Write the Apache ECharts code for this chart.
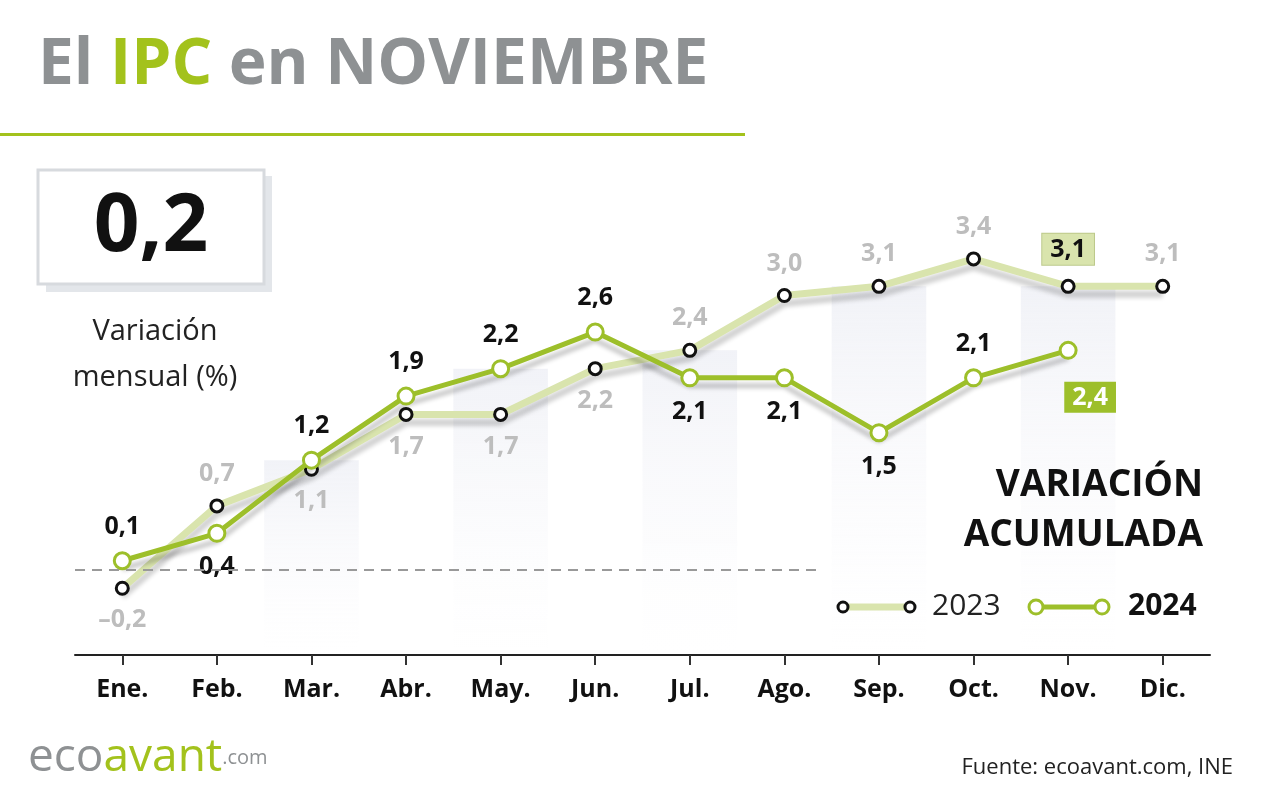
<!DOCTYPE html>
<html><head><meta charset="utf-8">
<script src="https://cdn.jsdelivr.net/npm/echarts@6/dist/echarts.min.js"></script>
<style>html,body{margin:0;padding:0;background:#fff}#c{width:1280px;height:800px}</style>
</head><body><div id="c"></div>
<script>
const months = ['Ene.','Feb.','Mar.','Abr.','May.','Jun.','Jul.','Ago.','Sep.','Oct.','Nov.','Dic.'];
const v2023 = [-0.2,0.7,1.1,1.7,1.7,2.2,2.4,3.0,3.1,3.4,3.1,3.1];
const v2024 = [0.1,0.4,1.2,1.9,2.2,2.6,2.1,2.1,1.5,2.1,2.4,null];
const pos2023 = ['bottom','top','bottom','bottom','bottom','bottom','top','top','top','top','top','top'];
const pos2024 = ['top','bottom','top','top','top','top','bottom','bottom','bottom','top','bottom','top'];
const shadeIdx = [2,4,6,8,10];
const fmt = v => (v<0?'–':'')+Math.abs(v).toFixed(1).replace('.',',');
const YMIN = -0.93;

const GREEN='#9dbf2a', LIGHT='#d9e4ad';
const chart = echarts.init(document.getElementById('c'));
const d23 = v2023.map((v,i)=>{
  const o={value:v,label:{position:pos2023[i]}};
  if(i===10){o.label={position:'top',distance:14,backgroundColor:LIGHT,color:'#111',padding:[4,8,2,8],borderColor:'#bcc98a',borderWidth:1};}
  return o;
});
const d24 = v2024.map((v,i)=>{
  const o={value:v,label:{position:pos2024[i]}};
  if(i===10){o.label={position:'bottom',distance:22,offset:[22,0],backgroundColor:GREEN,color:'#fff',padding:[4,8,2,8]};}
  return o;
});
const shadeData = shadeIdx.map(i=>[i, Math.max(v2023[i], v2024[i]||0)]);

chart.setOption({
  animation:false,
  grid:{left:75,right:70,top:204,bottom:145},
  xAxis:{type:'category',data:months,axisTick:{show:true,alignWithLabel:true,length:10,lineStyle:{color:'#333',width:2}},
    axisLine:{onZero:false,lineStyle:{color:'#222',width:2}},
    axisLabel:{color:'#111',fontSize:25,fontWeight:'bold',fontFamily:'Open Sans',margin:22}},
  yAxis:{type:'value',min:YMIN,max:4,show:false,splitLine:{show:false}},
  series:[
    {type:'custom',z:0,silent:true,data:shadeData,
     renderItem:(params,api)=>{
       const top=api.coord([api.value(0),api.value(1)]);
       const bot=api.coord([api.value(0),YMIN]);
       const w=api.size([1,0])[0];
       return {type:'rect',shape:{x:top[0]-w/2,y:top[1],width:w,height:bot[1]-top[1]},
         style:{fill:new echarts.graphic.LinearGradient(0,0,0,1,[{offset:0,color:'rgba(232,234,242,0.6)'},{offset:1,color:'rgba(248,248,251,0)'}])}};
     }},
    {name:'2023',type:'line',data:d23,z:3,symbol:'circle',symbolSize:12,
     lineStyle:{color:LIGHT,width:7,shadowColor:'rgba(0,0,0,0.18)',shadowBlur:4,shadowOffsetY:8},
     itemStyle:{color:'#fff',borderColor:'#111',borderWidth:3},
     label:{show:true,formatter:p=>fmt(p.value),color:'#bdbdbd',fontSize:25,fontWeight:'bold',fontFamily:'Open Sans',distance:12},
     markLine:{silent:true,symbol:'none',label:{show:false},lineStyle:{color:'#999',type:[10,7],width:2},
       data:[[{coord:[0,0],x:75},{coord:[7,0],x:820}]]}},
    {name:'2024',type:'line',data:d24,z:4,symbol:'circle',symbolSize:16,
     lineStyle:{color:GREEN,width:5,shadowColor:'rgba(0,0,0,0.22)',shadowBlur:4,shadowOffsetY:8},
     itemStyle:{color:'#fff',borderColor:GREEN,borderWidth:3},
     label:{show:true,formatter:p=>fmt(p.value),color:'#111',fontSize:25,fontWeight:'bold',fontFamily:'Open Sans',distance:12}}
  ],
  graphic:{elements:[
    {type:'text',z:100,left:38,top:34,style:{rich:{g:{fill:'#8e9193',fontSize:64,fontWeight:'bold',fontFamily:'Open Sans'},v:{fill:'#a3c21c',fontSize:64,fontWeight:'bold',fontFamily:'Open Sans'}},text:'{g|El }{v|IPC}{g| en NOVIEMBRE}'}},
    {type:'rect',z:100,shape:{x:0,y:133,width:745,height:3},style:{fill:'#a3c21c'}},
    {type:'rect',z:100,shape:{x:46,y:176,width:226,height:116},style:{fill:'#e3e6ea'}},
    {type:'rect',z:100,shape:{x:38,y:170,width:226,height:114},style:{fill:'#fff',stroke:'#d7dade',lineWidth:3}},
    {type:'text',z:100,x:151,y:228,style:{text:'0,2',fill:'#111',fontSize:80,fontWeight:'bold',fontFamily:'Open Sans',align:'center',verticalAlign:'middle'}},
    {type:'text',z:100,x:155,y:332,style:{text:'Variación',fill:'#222',fontSize:29,fontFamily:'Open Sans',align:'center',verticalAlign:'middle'}},
    {type:'text',z:100,x:155,y:378,style:{text:'mensual (%)',fill:'#222',fontSize:29,fontFamily:'Open Sans',align:'center',verticalAlign:'middle'}},
    {type:'text',z:100,x:1203,y:485,style:{text:'VARIACIÓN',fill:'#111',fontSize:37,fontWeight:'bold',fontFamily:'Open Sans',align:'right',verticalAlign:'middle'}},
    {type:'text',z:100,x:1203,y:535,style:{text:'ACUMULADA',fill:'#111',fontSize:37,fontWeight:'bold',fontFamily:'Open Sans',align:'right',verticalAlign:'middle'}},
    {type:'line',z:100,shape:{x1:843,y1:607,x2:910,y2:607},style:{stroke:LIGHT,lineWidth:7}},
    {type:'circle',z:101,shape:{cx:843,cy:607,r:5},style:{fill:'#fff',stroke:'#111',lineWidth:3}},
    {type:'circle',z:101,shape:{cx:910,cy:607,r:5},style:{fill:'#fff',stroke:'#111',lineWidth:3}},
    {type:'text',z:100,x:932,y:606,style:{text:'2023',fill:'#222',fontSize:30,fontFamily:'Open Sans',verticalAlign:'middle'}},
    {type:'line',z:100,shape:{x1:1036,y1:607,x2:1102,y2:607},style:{stroke:GREEN,lineWidth:5}},
    {type:'circle',z:101,shape:{cx:1036,cy:607,r:7},style:{fill:'#fff',stroke:GREEN,lineWidth:3}},
    {type:'circle',z:101,shape:{cx:1102,cy:607,r:7},style:{fill:'#fff',stroke:GREEN,lineWidth:3}},
    {type:'text',z:100,x:1128,y:606,style:{text:'2024',fill:'#111',fontSize:30,fontWeight:'bold',fontFamily:'Open Sans',verticalAlign:'middle'}},
    {type:'text',z:100,left:28,top:735,style:{rich:{a:{fill:'#8e9193',fontSize:46,fontFamily:'Open Sans'},b:{fill:'#a3c21c',fontSize:46,fontFamily:'Open Sans'},c:{fill:'#8e9193',fontSize:20,fontFamily:'Open Sans'}},text:'{a|eco}{b|avant}{c|.com}'}},
    {type:'text',z:100,x:1233,y:768,style:{text:'Fuente: ecoavant.com, INE',fill:'#222',fontSize:22,fontFamily:'Open Sans',align:'right',verticalAlign:'middle'}}
  ]}
});
</script></body></html>
